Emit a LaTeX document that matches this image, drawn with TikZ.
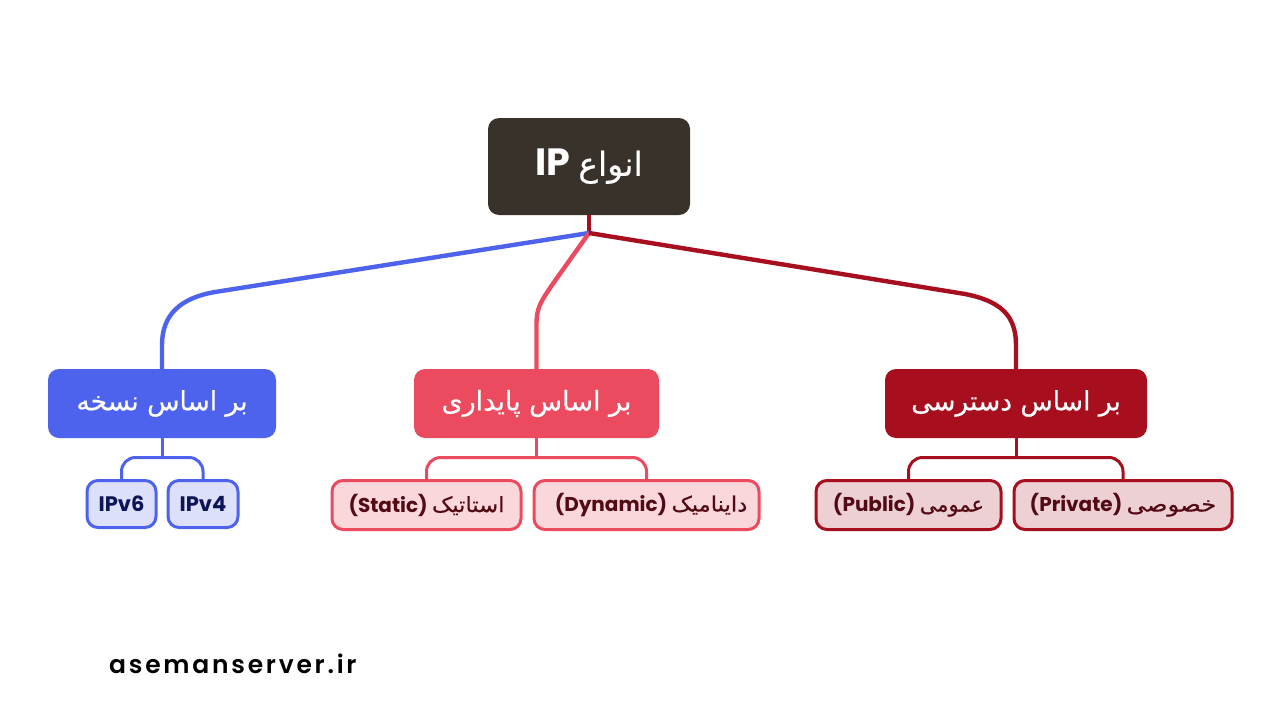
\documentclass[tikz,border=0pt]{standalone}
\usepackage{fontspec}
\setmainfont{Poppins}
\newfontfamily\arabicfont[Script=Arabic,FakeBold=0.5]{DejaVu Sans}
\newfontfamily\footfont[LetterSpace=11,BoldFont={Poppins SemiBold}]{Poppins}
\TeXXeTstate=1
\newcommand{\fsz}[1]{\fontsize{#1}{#1}\selectfont}
\newcommand{\fa}[1]{{\arabicfont\beginR #1\endR}}
\newcommand{\fax}[2]{\scalebox{#1}[1]{\fa{#2}}}
\definecolor{rootc}{HTML}{39322A}
\definecolor{bluec}{HTML}{4D63EE}
\definecolor{redc}{HTML}{EC4A5E}
\definecolor{darkc}{HTML}{A80F1E}
\definecolor{bluef}{HTML}{DDE0FB}
\definecolor{redf}{HTML}{FAD7DB}
\definecolor{darkf}{HTML}{EDD0D3}
\definecolor{bluet}{HTML}{0D1457}
\definecolor{redt}{HTML}{520A14}
\tikzset{
  x=1pt,y=-1pt,
  rootbox/.style={fill=rootc,rounded corners=11pt,text=white,inner sep=0pt},
  headbox/.style={rounded corners=11pt,text=white,inner sep=0pt,minimum height=69pt},
  childbox/.style={rounded corners=11pt,line width=3pt,inner sep=0pt},
  link/.style={line width=4.4pt},
  sublink/.style={line width=3pt,rounded corners=14pt}
}
\begin{document}
\begin{tikzpicture}
\useasboundingbox[fill=white] (0,0) rectangle (1280,720);
\coordinate (j) at (589,233);
\node[rootbox,minimum width=202pt,minimum height=97pt] (root) at (589,166.5) {\fsz{38}\bfseries IP \fa{\fsz{33}\mdseries انواع}};
\node[headbox,fill=bluec,minimum width=228pt] (hb) at (162,403.5) {\fa{\fsz{26.5}بر اساس نسخه}};
\node[headbox,fill=redc,minimum width=245pt] (hr) at (536.5,403.5) {\fa{\fsz{27}بر اساس پایداری}};
\node[headbox,fill=darkc,minimum width=262pt] (hd) at (1016,403.5) {\fa{\fsz{26.5}بر اساس دسترسی}};
\node[childbox,draw=bluec,fill=bluef,text=bluet,minimum width=69pt,minimum height=47pt] (c1) at (121.5,504) {\fsz{21}\bfseries IPv6};
\node[childbox,draw=bluec,fill=bluef,text=bluet,minimum width=70pt,minimum height=47pt] (c2) at (203,504) {\fsz{21}\bfseries IPv4};
\node[childbox,draw=redc,fill=redf,text=redt,minimum width=189pt,minimum height=49pt] (c3) at (426.5,505) {\fsz{20}\bfseries (Static) \fax{1.08}{\fsz{21}\mdseries استاتیک}};
\node[childbox,draw=redc,fill=redf,text=redt,minimum width=225pt,minimum height=49pt] (c4) at (646.5,505) {\hspace{9pt}\fsz{20}\bfseries (Dynamic) \fax{1.08}{\fsz{21}\mdseries داینامیک}};
\node[childbox,draw=darkc,fill=darkf,text=redt,minimum width=185pt,minimum height=49pt] (c5) at (908.5,505) {\fsz{20}\bfseries (Public) \fax{1.0}{\fsz{21}\mdseries عمومی}};
\node[childbox,draw=darkc,fill=darkf,text=redt,minimum width=218pt,minimum height=49pt] (c6) at (1123,505) {\fsz{20}\bfseries (Private) \fax{1.16}{\fsz{21}\mdseries خصوصی}};
\node[anchor=west,inner sep=0pt,text=black] (foot) at (109,664) {\footfont\fsz{25}\bfseries asemanserver.ir};
\draw[link,darkc] (root.south) -- (j);
\draw[link,bluec] (j) -- (215,292) .. controls (180,298) and (162,315) .. (162,345) -- (hb.north);
\draw[link,redc] (j) -- (552,285) .. controls (540,303) and (536.5,308) .. (536.5,325) -- (hr.north);
\draw[link,darkc] (j) -- (965,294) .. controls (1000,301) and (1016,315) .. (1016,345) -- (hd.north);
\coordinate (bb) at (162,457.5);
\coordinate (br) at (536.5,457.5);
\coordinate (bd) at (1016,457.5);
\draw[sublink,bluec] (hb.south) -- (bb);
\draw[sublink,bluec] (c1.north) |- (bb) -| (c2.north);
\draw[sublink,redc] (hr.south) -- (br);
\draw[sublink,redc] (c3.north) |- (br) -| (c4.north);
\draw[sublink,darkc] (hd.south) -- (bd);
\draw[sublink,darkc] (c5.north) |- (bd) -| (c6.north);
\end{tikzpicture}
\end{document}
